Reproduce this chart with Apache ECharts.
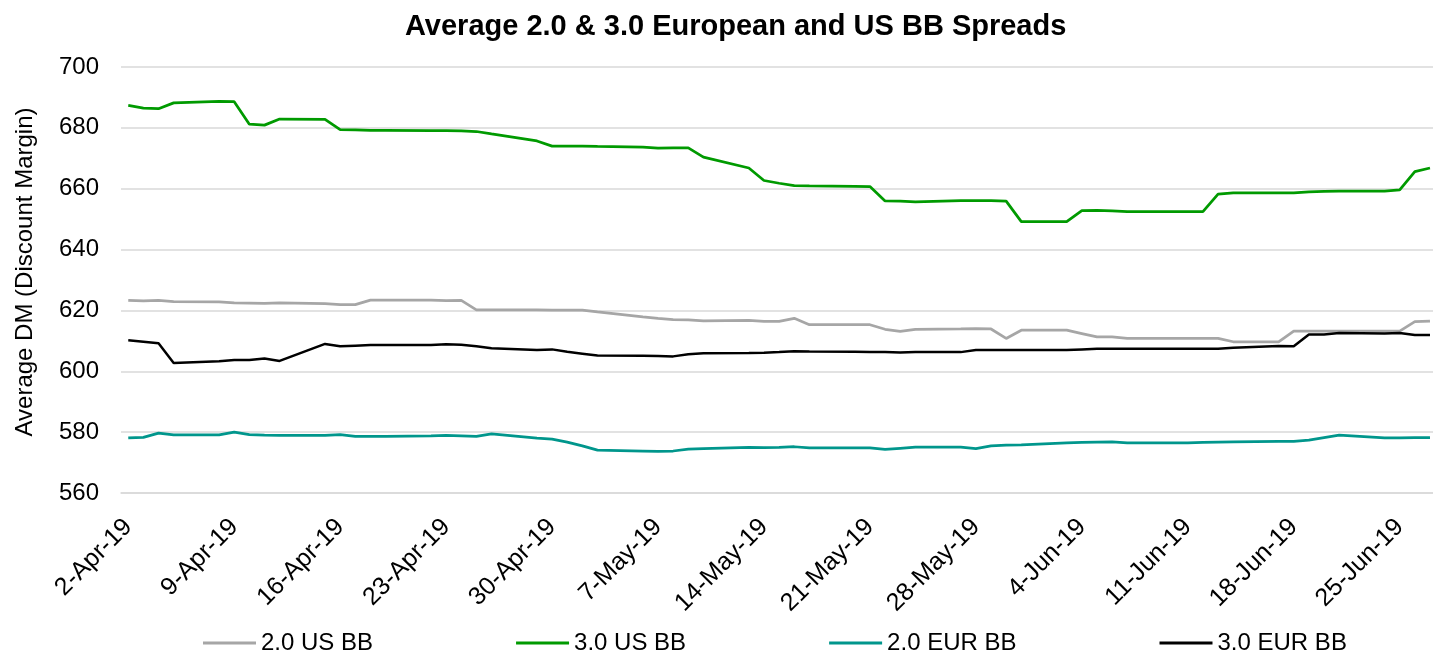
<!DOCTYPE html>
<html>
<head>
<meta charset="utf-8">
<script src="https://cdn.jsdelivr.net/npm/echarts@6/dist/echarts.min.js"></script>
<style>
  html, body { margin: 0; padding: 0; background: #ffffff; }
  #chart { width: 1433px; height: 652px; }
</style>
</head>
<body>
<div id="chart"></div>
<script>
// Business days (dates of each observation)
const dates = [
  '2019-04-02','2019-04-03','2019-04-04','2019-04-05',
  '2019-04-08','2019-04-09','2019-04-10','2019-04-11','2019-04-12',
  '2019-04-15','2019-04-16','2019-04-17','2019-04-18','2019-04-19',
  '2019-04-22','2019-04-23','2019-04-24','2019-04-25','2019-04-26',
  '2019-04-29','2019-04-30','2019-05-01','2019-05-02','2019-05-03',
  '2019-05-06','2019-05-07','2019-05-08','2019-05-09','2019-05-10',
  '2019-05-13','2019-05-14','2019-05-15','2019-05-16','2019-05-17',
  '2019-05-20','2019-05-21','2019-05-22','2019-05-23','2019-05-24',
  '2019-05-27','2019-05-28','2019-05-29','2019-05-30','2019-05-31',
  '2019-06-03','2019-06-04','2019-06-05','2019-06-06','2019-06-07',
  '2019-06-10','2019-06-11','2019-06-12','2019-06-13','2019-06-14',
  '2019-06-17','2019-06-18','2019-06-19','2019-06-20','2019-06-21',
  '2019-06-24','2019-06-25','2019-06-26','2019-06-27'
];

const us20 = [
  623.3,623.1,623.3,622.9,
  622.8,622.5,622.4,622.3,622.5,
  622.2,621.9,621.9,623.4,623.4,
  623.4,623.2,623.3,620.2,620.2,
  620.2,620.1,620.1,620.1,619.5,
  617.9,617.4,617.0,616.9,616.6,
  616.7,616.4,616.4,617.4,615.3,
  615.3,615.3,613.8,613.1,613.8,
  613.9,614.0,613.9,610.8,613.5,
  613.5,612.4,611.3,611.3,610.8,
  610.8,610.8,610.8,610.8,609.7,
  609.7,613.2,613.2,613.2,613.2,
  613.2,613.2,616.3,616.5
];

const us30 = [
  687.4,686.5,686.3,688.2,
  688.7,688.6,681.2,680.9,682.9,
  682.8,679.4,679.3,679.2,679.2,
  679.1,679.1,679.0,678.8,678.0,
  675.7,674.0,674.0,674.0,673.9,
  673.7,673.3,673.4,673.4,670.4,
  666.8,662.7,661.8,661.0,660.9,
  660.8,660.7,656.0,655.9,655.7,
  656.1,656.1,656.1,655.9,649.2,
  649.2,652.8,652.9,652.7,652.5,
  652.5,652.5,652.5,658.2,658.6,
  658.6,658.6,659.0,659.1,659.2,
  659.2,659.6,665.6,666.8
];

const eur20 = [
  578.1,578.3,579.7,579.1,
  579.1,580.0,579.2,579.0,578.9,
  578.9,579.2,578.6,578.6,578.6,
  578.8,578.9,578.8,578.6,579.4,
  578.0,577.7,576.7,575.5,574.1,
  573.8,573.7,573.8,574.4,574.6,
  575.0,574.9,575.0,575.2,574.8,
  574.8,574.8,574.3,574.7,575.1,
  575.1,574.6,575.5,575.7,575.8,
  576.5,576.6,576.7,576.8,576.5,
  576.5,576.5,576.6,576.7,576.8,
  577.0,577.0,577.4,578.2,579.0,
  578.1,578.1,578.2,578.2
];

const eur30 = [
  610.2,609.7,609.2,602.7,
  603.3,603.7,603.7,604.2,603.4,
  609.0,608.2,608.4,608.6,608.6,
  608.6,608.9,608.7,608.2,607.6,
  607.0,607.2,606.4,605.8,605.2,
  605.1,605.0,604.9,605.6,605.9,
  606.0,606.1,606.3,606.6,606.5,
  606.4,606.3,606.3,606.2,606.3,
  606.3,607.0,607.0,607.0,607.0,
  607.0,607.2,607.4,607.4,607.4,
  607.4,607.4,607.4,607.4,607.7,
  608.3,608.2,612.1,612.1,612.6,
  612.4,612.6,611.9,611.9
];

const seriesNames = ['2.0 US BB', '3.0 US BB', '2.0 EUR BB', '3.0 EUR BB'];
const seriesColors = ['#a6a6a6', '#009a00', '#00968c', '#000000'];
const yTicks = [560, 580, 600, 620, 640, 660, 680, 700];
const xTickDays = [0, 7, 14, 21, 28, 35, 42, 49, 56, 63, 70, 77, 84];

const MONTHS = ['Jan','Feb','Mar','Apr','May','Jun','Jul','Aug','Sep','Oct','Nov','Dec'];
const base = Date.UTC(2019, 3, 2);
function dayOffset(s) {
  const p = s.split('-');
  return Math.round((Date.UTC(+p[0], +p[1] - 1, +p[2]) - base) / 86400000);
}
function dayLabel(d) {
  const dt = new Date(base + Math.round(d) * 86400000);
  return dt.getUTCDate() + '-' + MONTHS[dt.getUTCMonth()] + '-' + String(dt.getUTCFullYear()).slice(2);
}
const xs = dates.map(dayOffset);
function pairs(vals) { return vals.map((v, i) => [xs[i], v]); }

const FONT = "'Liberation Sans', Arial, sans-serif";
const chart = echarts.init(document.getElementById('chart'), null, { renderer: 'canvas' });
const dataSets = [us20, us30, eur20, eur30];

chart.setOption({
  animation: false,
  backgroundColor: '#ffffff',
  title: {
    text: 'Average 2.0 & 3.0 European and US BB Spreads',
    left: 400,
    top: 7,
    textStyle: { fontFamily: FONT, fontSize: 29, fontWeight: 'bold', color: '#000000' }
  },
  legend: {
    data: seriesNames,
    left: 198,
    top: 626,
    icon: 'rect',
    itemWidth: 53,
    itemHeight: 3,
    itemGap: 143,
    textStyle: { fontFamily: FONT, fontSize: 24, color: '#000000' }
  },
  grid: { left: 121, right: 0, top: 67, bottom: 159, containLabel: false },
  xAxis: {
    type: 'value',
    min: -0.48,
    max: 86.2,
    splitLine: { show: false },
    axisTick: { show: false },
    axisLine: { show: true, lineStyle: { color: '#d9d9d9', width: 1.5 } },
    axisLabel: {
      customValues: xTickDays,
      rotate: 45,
      margin: 30,
      fontFamily: FONT,
      fontSize: 25,
      color: '#000000',
      formatter: function (v) { return dayLabel(v); }
    }
  },
  yAxis: {
    type: 'value',
    min: yTicks[0],
    max: yTicks[yTicks.length - 1],
    interval: 20,
    name: 'Average DM (Discount Margin)',
    nameLocation: 'middle',
    nameGap: 84,
    nameTextStyle: { fontFamily: FONT, fontSize: 24, color: '#000000', padding: [0, 0, 0, 16] },
    axisLine: { show: false },
    axisTick: { show: false },
    axisLabel: { margin: 22, fontFamily: FONT, fontSize: 24, color: '#000000' },
    splitLine: { lineStyle: { color: '#d9d9d9', width: 1.5 } }
  },
  series: dataSets.map((vals, i) => ({
    name: seriesNames[i],
    type: 'line',
    data: pairs(vals),
    symbol: 'none',
    color: seriesColors[i],
    lineStyle: { color: seriesColors[i], width: i === 3 ? 2.5 : 2.75 },
    z: [2, 3, 2, 4][i]
  }))
});
</script>
</body>
</html>
